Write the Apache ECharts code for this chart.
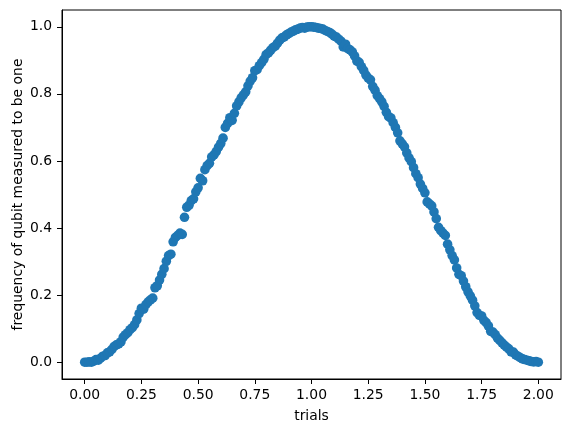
<!DOCTYPE html>
<html>
<head>
<meta charset="utf-8">
<script src="https://cdn.jsdelivr.net/npm/echarts@6/dist/echarts.min.js"></script>
<style>
  html, body { margin: 0; padding: 0; background: #fff; }
  #chart { width: 567px; height: 433px; }
</style>
</head>
<body>
<div id="chart"></div>
<script>
// trial positions, 0.00 .. 2.00 step 0.01
const trials = [];
for (let k = 0; k <= 200; k++) trials.push(+(k / 100).toFixed(2));

// measured frequency of qubit in state one
const freqRise = [
  0.000, 0.000, 0.001, 0.000, 0.003, 0.008, 0.006, 0.012, 0.018, 0.020,
  0.028, 0.031, 0.038, 0.047, 0.052, 0.055, 0.061, 0.075, 0.082, 0.088,
  0.097, 0.103, 0.112, 0.126, 0.145, 0.161, 0.158, 0.172, 0.180, 0.186,
  0.191, 0.222, 0.228, 0.245, 0.262, 0.279, 0.301, 0.318, 0.322, 0.359,
  0.372, 0.378, 0.385, 0.381, 0.432, 0.462, 0.468, 0.482, 0.487, 0.508,
  0.520, 0.548, 0.541, 0.574, 0.586, 0.593, 0.612, 0.618, 0.628, 0.641,
  0.652, 0.668, 0.700, 0.712, 0.729, 0.721, 0.742, 0.764, 0.776, 0.788,
  0.797, 0.806, 0.824, 0.838, 0.848, 0.869, 0.872, 0.884, 0.893, 0.903,
  0.917, 0.922, 0.930, 0.938, 0.942, 0.951, 0.960, 0.967, 0.970, 0.976,
  0.980, 0.984, 0.987, 0.991, 0.993, 0.996, 0.998, 0.996, 0.999, 1.000,
  1.000
];
const freqFall = [
  0.999, 0.998, 0.996, 0.995, 0.993, 0.989, 0.986, 0.983, 0.978, 0.972,
  0.969, 0.963, 0.957, 0.940, 0.948, 0.935, 0.931, 0.925, 0.913, 0.898,
  0.894, 0.881, 0.870, 0.856, 0.847, 0.842, 0.822, 0.811, 0.795, 0.786,
  0.776, 0.763, 0.745, 0.732, 0.728, 0.714, 0.700, 0.684, 0.660, 0.651,
  0.642, 0.624, 0.609, 0.598, 0.580, 0.562, 0.550, 0.531, 0.518, 0.505,
  0.478, 0.472, 0.466, 0.448, 0.428, 0.402, 0.392, 0.385, 0.378, 0.352,
  0.335, 0.318, 0.305, 0.281, 0.262, 0.258, 0.242, 0.225, 0.210, 0.198,
  0.185, 0.168, 0.148, 0.140, 0.138, 0.125, 0.118, 0.108, 0.092, 0.090,
  0.082, 0.072, 0.065, 0.058, 0.051, 0.045, 0.040, 0.031, 0.030, 0.022,
  0.018, 0.014, 0.010, 0.008, 0.006, 0.004, 0.002, 0.001, 0.002, 0.000
];
const frequency = freqRise.concat(freqFall);

const xTicks = [0, 0.25, 0.5, 0.75, 1.0, 1.25, 1.5, 1.75, 2.0];
const yTicks = [0, 0.2, 0.4, 0.6, 0.8, 1.0];

const points = trials.map((t, i) => [t, frequency[i]]);

const font = 'DejaVu Sans';
const chart = echarts.init(document.getElementById('chart'), null, { renderer: 'canvas' });

chart.setOption({
  animation: false,
  grid: {
    left: 62, top: 10, right: 6, bottom: 54,
    outerBoundsMode: 'none',
    containLabel: false,
    show: true, borderColor: '#000', borderWidth: 1, backgroundColor: 'transparent'
  },
  xAxis: {
    type: 'value',
    min: -0.1, max: 2.1,
    name: 'trials',
    nameLocation: 'middle',
    nameGap: 30,
    nameMoveOverlap: false,
    nameTextStyle: { fontFamily: font, fontSize: 13.9, color: '#000' },
    splitLine: { show: false },
    axisLine: { show: true, onZero: false, lineStyle: { color: '#000', width: 1 } },
    axisTick: { show: true, length: 5, customValues: xTicks, lineStyle: { color: '#000' } },
    axisLabel: {
      customValues: xTicks, margin: 9,
      fontFamily: font, fontSize: 13.9, color: '#000',
      formatter: v => v.toFixed(2)
    }
  },
  yAxis: {
    type: 'value',
    min: -0.05, max: 1.05,
    name: 'frequency of qubit measured to be one',
    nameLocation: 'middle',
    nameGap: 37,
    nameMoveOverlap: false,
    nameTextStyle: { fontFamily: font, fontSize: 13.9, color: '#000' },
    splitLine: { show: false },
    axisLine: { show: true, onZero: false, lineStyle: { color: '#000', width: 1 } },
    axisTick: { show: true, length: 5, customValues: yTicks, lineStyle: { color: '#000' } },
    axisLabel: {
      customValues: yTicks, margin: 10,
      fontFamily: font, fontSize: 13.9, color: '#000',
      formatter: v => v.toFixed(1)
    }
  },
  series: [{
    type: 'scatter',
    data: points,
    symbol: 'circle',
    symbolSize: 9.6,
    itemStyle: { color: '#1f77b4', opacity: 1 }
  }]
});
</script>
</body>
</html>
